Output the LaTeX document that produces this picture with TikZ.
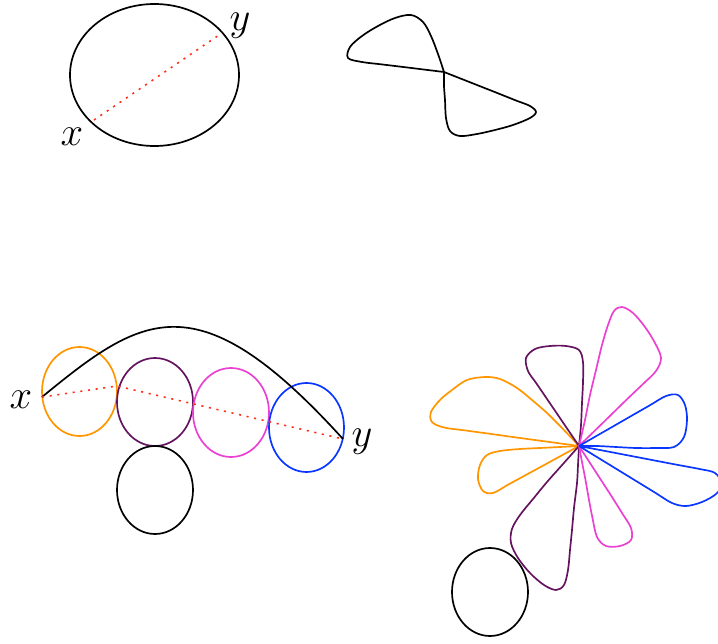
\documentclass[tikz,border=0pt]{standalone}
\usepackage{amsmath}
\definecolor{myorange}{RGB}{255,150,0}
\definecolor{mypurple}{RGB}{100,20,95}
\definecolor{mymagenta}{RGB}{235,65,210}
\definecolor{myblue}{RGB}{10,55,255}
\definecolor{myred}{RGB}{255,45,25}
\tikzset{
  crv/.style={line width=1.2pt, line join=round},
  crvO/.style={crv, draw=myorange},
  crvP/.style={crv, draw=mypurple},
  crvM/.style={crv, draw=mymagenta},
  crvB/.style={crv, draw=myblue},
  geo/.style={draw=myred, line width=1.1pt, dash pattern=on 1.5pt off 4pt},
  lbl/.style={inner sep=0pt, font=\Huge, scale=1.16, transform shape},
  loop/.style={smooth, tension=0.55},
}

\begin{document}
\begin{tikzpicture}[x=0.025cm, y=-0.025cm]
  \useasboundingbox (0,0) rectangle (718,644);

  % top left: closed curve with a chord
  \draw[crv] (154.5,75) ellipse [x radius=84.5, y radius=71];
  \coordinate (xt) at (94,120);
  \coordinate (yt) at (222,33);
  \draw[geo] (xt) -- (yt);
  \node[lbl] (xtl) at (72,137) {$x$};
  \node[lbl] (ytl) at (240,26) {$y$};

  % top right: figure eight
  \coordinate (c8) at (444,72);
  \draw[crv] plot[loop] coordinates {(c8) (438,54) (431,36) (423,22) (411,15) (395,18)
    (378,26) (362,36) (350,47) (348,58) (362,62) (380,64.2) (400,66.6) (422,69.3) (c8)};
  \draw[crv] plot[loop] coordinates {(c8) (462,79.1) (480,86.2) (498,93.3) (516,100.5)
    (530,106) (536,112) (530,118) (513,125) (495,130) (477,134) (460,136) (450,131)
    (446,118) (445,100) (444,86) (c8)};

  % bottom left: chain of loops
  \draw[crvO] (79.5,391.5) ellipse [x radius=37.5, y radius=44.5];
  \draw[crvP] (155,402) ellipse [x radius=38, y radius=44];
  \draw[crvM] (231,412.5) ellipse [x radius=38, y radius=44.5];
  \draw[crvB] (306.5,427.5) ellipse [x radius=37.5, y radius=44.5];
  \draw[crv] (155,490) ellipse [x radius=38, y radius=44];
  \coordinate (xb) at (42,397);
  \coordinate (yb) at (343,439);
  \coordinate (kb) at (117,386);
  \draw[crv] (xb) .. controls (142,315) and (197,278) .. (yb);
  \draw[geo] (xb) -- (kb) -- (yb);
  \node[lbl] (xbl) at (21,400) {$x$};
  \node[lbl] (ybl) at (362,442) {$y$};

  % bottom right: bouquet
  \coordinate (cf) at (579,446);
  \draw[crvO] plot[loop] coordinates {(cf) (563,429) (547,413) (532,400) (517,388)
    (500,379) (485,377) (467,380) (452,390) (440,400) (431,412) (432,422) (444,427.5)
    (465,430.4) (490,433.8) (515,437.3) (540,440.7) (560,443.4) (cf)};
  \draw[crvO] plot[loop] coordinates {(cf) (560,447) (540,448) (520,449) (500,451)
    (487,455) (480,465) (478,479) (483,491) (493,493) (507,485.3) (522,477.1)
    (538,468.4) (553,460.2) (566,453.1) (cf)};
  \draw[crvP] plot[loop] coordinates {(cf) (581,425) (582,403) (583,382) (583,362)
    (579,350) (566,346) (550,346) (535,349) (526,358) (528,371) (536,382.8) (545,396)
    (555,410.7) (567,428.4) (cf)};
  \draw[crvP] plot[loop] coordinates {(cf) (563,464) (547,482) (533,499) (520,515)
    (512,529) (511,543) (518,558) (530,573) (544,585) (556,590) (564,585) (568,570)
    (570,550) (572,530) (574,508) (577,483) (578,465) (cf)};
  \draw[crvM] plot[loop] coordinates {(cf) (585,420) (590,395) (596,370) (602,345)
    (608,325) (614,311) (622,307) (633,313) (645,327) (655,343) (661,358) (656,371)
    (643,384) (628,398.3) (612,413.9) (595,430.5) (cf)};
  \draw[crvM] plot[loop] coordinates {(cf) (582,462) (585.5,480) (589,500) (592.5,518)
    (597,537) (606,546) (620,546) (631,540) (631,528) (622,513) (612,497) (601,480)
    (590,463) (cf)};
  \draw[crvB] plot[loop] coordinates {(cf) (596,436.2) (614,425.9) (632,415.5)
    (650,405.2) (666,396) (678,395) (685,405) (687,420) (684,437) (674,447) (656,448)
    (636,448) (616,447) (597,446) (cf)};
  \draw[crvB] plot[loop] coordinates {(cf) (600,450) (625,454.8) (650,459.6)
    (675,464.4) (700,469.1) (715,473) (722,484) (716,494) (702,502) (686,506)
    (672,503) (656,493.2) (640,483.4) (624,473.6) (608,463.8) (592,454) (cf)};
  \draw[crv] (490,592) ellipse [x radius=38, y radius=44];
\end{tikzpicture}
\end{document}
